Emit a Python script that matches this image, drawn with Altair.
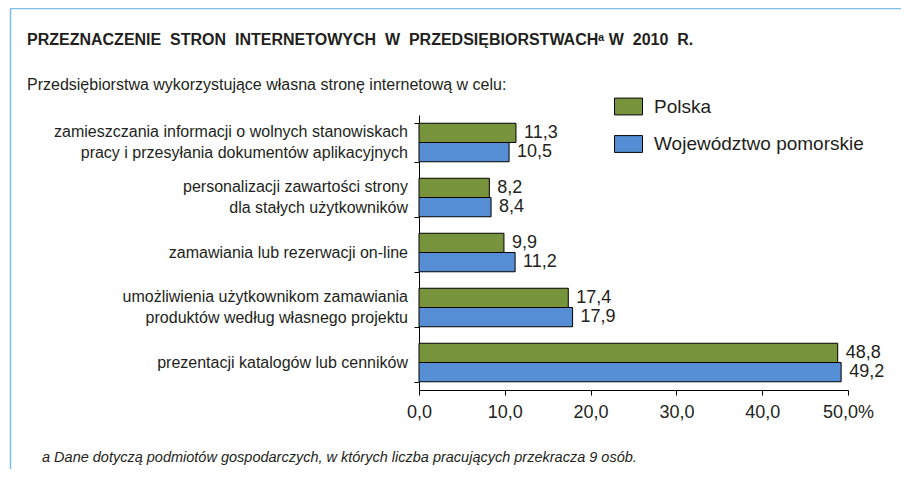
import altair as alt
import pandas as pd

categories = [
    "zamieszczania informacji o wolnych stanowiskach|pracy i przesyłania dokumentów aplikacyjnych",
    "personalizacji zawartości strony|dla stałych użytkowników",
    "zamawiania lub rezerwacji on-line",
    "umożliwienia użytkownikom zamawiania|produktów według własnego projektu",
    "prezentacji katalogów lub cenników",
]
series_names = ["Polska", "Województwo pomorskie"]
polska = [11.3, 8.2, 9.9, 17.4, 48.8]
pomorskie = [10.5, 8.4, 11.2, 17.9, 49.2]
x_ticks = [0, 10, 20, 30, 40, 50]

title_text = "PRZEZNACZENIE\u00a0 STRON\u00a0 INTERNETOWYCH\u00a0 W\u00a0 PRZEDSIĘBIORSTWACH\u1d43\u00a0W\u00a0 2010\u00a0 R."
subtitle_text = "Przedsiębiorstwa wykorzystujące własna stronę internetową w celu:"
footnote_text = "a Dane dotyczą podmiotów gospodarczych, w których liczba pracujących przekracza 9 osób."

rows = []
for c, a, b in zip(categories, polska, pomorskie):
    for s, v in zip(series_names, (a, b)):
        rows.append({"category": c, "series": s, "value": v,
                     "label": f"{v:.1f}".replace(".", ",")})
df = pd.DataFrame(rows)
cat_df = pd.DataFrame({"category": categories,
                       "multi": ["|" in c for c in categories]})

GREEN = "#77933c"
BLUE = "#558ed5"
TXT = "#231f20"

W, H = 429, 275
PAD = {"left": 411, "top": 107, "right": 53, "bottom": 79}

y_scale = alt.Scale(paddingInner=0.3, paddingOuter=0.15)
y_enc = alt.Y(
    "category:N", sort=categories, scale=y_scale,
    axis=alt.Axis(title=None, labels=False,
                  tickBand="extent", tickSize=5, tickColor="black",
                  domainColor="black"),
)
yoff = alt.YOffset("series:N", sort=series_names)
x_enc = alt.X(
    "value:Q", scale=alt.Scale(domain=[0, 50], nice=False),
    axis=alt.Axis(title=None, values=x_ticks, grid=False,
                  labelExpr="datum.value == 50 ? '50,0%' : replace(format(datum.value, '.1f'), '.', ',')",
                  labelFontSize=18, labelColor=TXT, labelFont="Liberation Sans",
                  tickSize=5, tickColor="black", domainColor="black",
                  labelPadding=8, labelFlush=False, labelOverlap=False),
)

bars = alt.Chart(df).mark_bar(stroke="black", strokeWidth=1).encode(
    x=x_enc, y=y_enc, yOffset=yoff,
    color=alt.Color("series:N", sort=series_names,
                    scale=alt.Scale(domain=series_names, range=[GREEN, BLUE]),
                    legend=alt.Legend(
                        title=None, orient="none", legendX=195, legendY=-23,
                        symbolType="M-1,-0.6H1V0.6H-1Z", symbolSize=784,
                        symbolStrokeColor="black", symbolStrokeWidth=1,
                        labelFontSize=19, labelFont="Liberation Sans",
                        labelColor=TXT, labelOffset=11, rowPadding=12.5,
                        padding=0, labelLimit=400)),
)

values = alt.Chart(df).mark_text(align="left", baseline="middle", dx=8,
                                 fontSize=18, font="Liberation Sans",
                                 color=TXT).encode(
    x="value:Q", y=alt.Y("category:N", sort=categories), yOffset=yoff,
    text="label:N",
)

cat_multi = alt.Chart(cat_df).transform_filter("datum.multi").mark_text(
    align="right", baseline="middle", lineBreak="|", lineHeight=21,
    fontSize=16, font="Liberation Sans", color=TXT, dy=-10.5).encode(
    x=alt.value(-11), y=alt.Y("category:N", sort=categories), text="category:N")
cat_single = alt.Chart(cat_df).transform_filter("!datum.multi").mark_text(
    align="right", baseline="middle",
    fontSize=16, font="Liberation Sans", color=TXT).encode(
    x=alt.value(-11), y=alt.Y("category:N", sort=categories), text="category:N")

one = pd.DataFrame({"k": [0]})

title = alt.Chart(one).mark_text(align="left", baseline="alphabetic",
                                 fontSize=16, fontWeight="bold",
                                 font="Liberation Sans",
                                 color=TXT).encode(
    x=alt.value(-392), y=alt.value(-70), text=alt.value(title_text))

subtitle = alt.Chart(one).mark_text(align="left", baseline="middle",
                                    fontSize=16, font="Liberation Sans",
                                    color=TXT).encode(
    x=alt.value(-392), y=alt.value(-30), text=alt.value(subtitle_text))

footnote = alt.Chart(one).mark_text(align="left", baseline="middle",
                                    fontSize=14.5, fontStyle="italic",
                                    font="Liberation Sans",
                                    color=TXT).encode(
    x=alt.value(-377), y=alt.value(343), text=alt.value(footnote_text))

frame_top = alt.Chart(one).mark_rule(color="#7cc0ea", strokeWidth=1.5).encode(
    x=alt.value(-408.5), x2=alt.value(PAD["right"] + W + 10),
    y=alt.value(-106.5))
frame_left = alt.Chart(one).mark_rule(color="#7cc0ea", strokeWidth=1.5).encode(
    x=alt.value(-408.5), y=alt.value(-106.5), y2=alt.value(H + PAD["bottom"]))

chart = alt.layer(
    frame_top, frame_left, bars, values, cat_multi, cat_single,
    title, subtitle, footnote
).properties(
    width=W, height=H,
    autosize=alt.AutoSizeParams(type="none"),
    padding=PAD,
    background="white",
).configure_view(stroke=None)

chart.save("out.html", embed_options={"renderer": "svg", "actions": False})
